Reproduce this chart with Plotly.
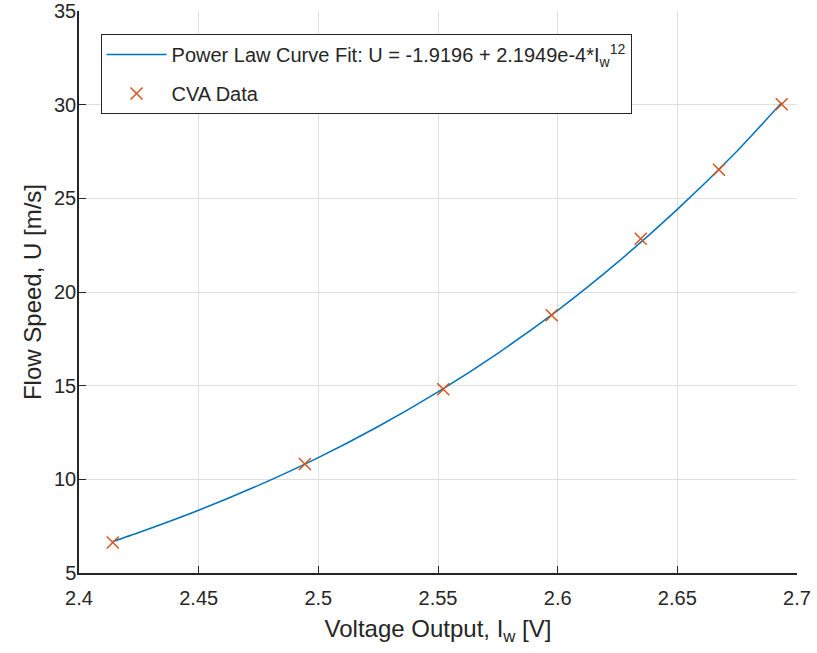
import plotly.graph_objects as go

# measured CVA calibration points
volts_data  = [ 2.4141, 2.4944, 2.5522, 2.5975, 2.6347, 2.6674, 2.6936 ]
speed_data  = [ 6.63, 10.82, 14.81, 18.76, 22.84, 26.53, 30.02 ]

# fitted curve
volts_fit   = [ 2.4141, 2.425, 2.45, 2.475, 2.5, 2.525, 2.55, 2.575, 2.6, 2.625, 2.65, 2.675, 2.6936 ]
speed_fit   = [ 6.68, 7.16, 8.35, 9.68, 11.16, 12.82, 14.67, 16.73, 19.02, 21.58, 24.41, 27.53, 30.10 ]

x_ticks     = [ 2.4, 2.45, 2.5, 2.55, 2.6, 2.65, 2.7 ]
y_ticks     = [ 5, 10, 15, 20, 25, 30, 35 ]

ink     = "#262626"
font    = "Liberation Sans, Arial, Helvetica, sans-serif"

fig = go.Figure()

fig.add_trace(
    go.Scatter(
        x           = volts_fit,
        y           = speed_fit,
        mode        = "lines",
        line        = dict(color = "#0072BD", width = 1.5, shape = "spline", smoothing = 0.6),
        name        = "Power Law Curve Fit: U = -1.9196 + 2.1949e-4*I<sub>w</sub><sup>12</sup>",
        legendgroup = "fit"
    )
)

fig.add_trace(
    go.Scatter(
        x           = volts_data,
        y           = speed_data,
        mode        = "markers",
        marker      = dict(symbol = "x-thin", size = 12, line = dict(color = "#D95319", width = 1.5)),
        name        = "CVA Data",
        legendgroup = "data"
    )
)

axis_common = dict(
    showline    = True,
    linecolor   = ink,
    linewidth   = 1.5,
    ticks       = "inside",
    ticklen     = 7,
    tickwidth   = 1.2,
    tickcolor   = ink,
    showgrid    = True,
    gridcolor   = "#DFDFDF",
    gridwidth   = 1,
    zeroline    = False,
    automargin  = False,
    ticklabeloverflow = "allow",
    tickfont    = dict(size = 20, color = ink, family = font),
)

fig.update_xaxes(
    range       = [ 2.4, 2.7 ],
    tickvals    = x_ticks,
    ticktext    = [ str(t) for t in x_ticks ],
    ticklabelstandoff = 6,
    title       = dict(text = "Voltage Output, I<sub>w</sub> [V]", font = dict(size = 24, color = ink, family = font), standoff = 12),
    **axis_common
)

fig.update_yaxes(
    range       = [ 5, 35 ],
    tickvals    = y_ticks,
    ticklabelstandoff = -3,
    title       = dict(text = "Flow Speed, U [m/s]", font = dict(size = 24, color = ink, family = font), standoff = 6),
    **axis_common
)

fig.update_layout(
    width           = 817,
    height          = 653,
    margin          = dict(l = 79, r = 20, t = 11, b = 80),
    paper_bgcolor   = "white",
    plot_bgcolor    = "white",
    font            = dict(family = font, color = ink),
    showlegend      = True,
    legend          = dict(
        x               = 0.030,
        y               = 0.959,
        xanchor         = "left",
        yanchor         = "top",
        bgcolor         = "white",
        bordercolor     = ink,
        borderwidth     = 1,
        font            = dict(size = 20, color = ink, family = font),
        itemwidth       = 60,
        traceorder      = "grouped",
        tracegroupgap   = 10,
    ),
)

# drop the default page margin so the figure sits at the window's corner
fig.write_html(
    "out.html",
    config      = { "displayModeBar": False },
    post_script = "document.body.style.margin = '0';"
)
